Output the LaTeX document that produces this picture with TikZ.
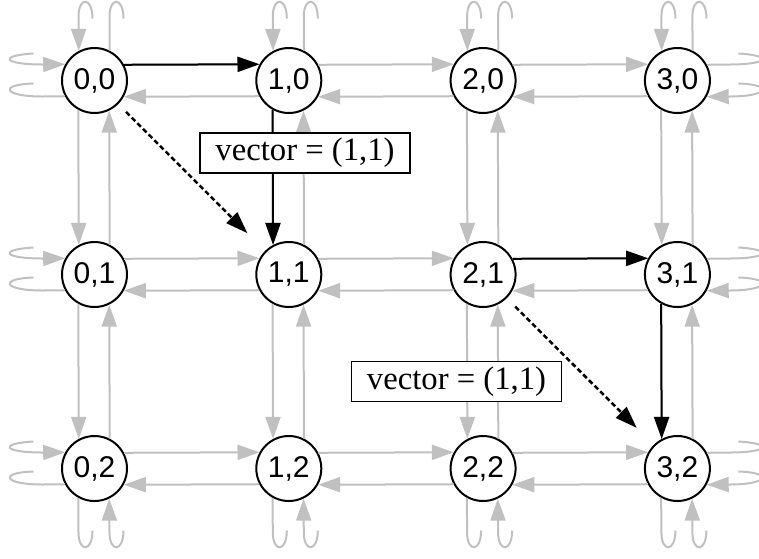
\documentclass[tikz,border=0pt]{standalone}
\usepackage{fontspec}
\setmainfont{Liberation Serif}
\newfontfamily\arialfont{Liberation Sans}
\usetikzlibrary{arrows.meta,calc}
\definecolor{edgegray}{RGB}{192,192,192}
\tikzset{
  state/.style={circle, draw=black, line width=2pt, fill=white, minimum size=65pt, inner sep=0pt, font=\arialfont\fontsize{30}{36}\selectfont},
  gline/.style={draw=edgegray, line width=2pt},
  gedge/.style={gline, -{Triangle[length=22pt,width=15pt]}},
  bedge/.style={draw=black, line width=2pt, -{Triangle[length=22pt,width=15pt]}},
  dedge/.style={bedge, line width=2.5pt, dash pattern=on 5pt off 3pt},
  labelbox/.style={draw=black, line width=1.2pt, fill=white, inner xsep=15.5pt, inner ysep=0pt, minimum height=40pt, font=\fontsize{32.7}{38}\selectfont}
}
\begin{document}
\begin{tikzpicture}[x=1pt,y=-1pt]
\useasboundingbox (0,0) rectangle (759,558);
\clip (0,0) rectangle (759,558);
% nodes
\foreach \i in {0,...,3}{
  \foreach \j in {0,1,2}{
    \node[state] (n\i\j) at ({94.5+194.3*\i},{80.5+194*\j}) {\i,\j};
  }
}
% horizontal gray edges
\foreach \i/\ii in {0/1,1/2,2/3}{
  \foreach \j in {0,1,2}{
    \draw[gedge] (n\i\j.28.5) -- (n\ii\j.151.5);
    \draw[gedge] (n\ii\j.208.5) -- (n\i\j.331.5);
  }
}
% vertical gray edges
\foreach \i in {0,...,3}{
  \foreach \j/\jj in {0/1,1/2}{
    \draw[gedge] (n\i\j.241.5) -- (n\i\jj.118.5);
    \draw[gedge] (n\i\jj.63.4) -- (n\i\j.296.6);
  }
}
% left and right wrap-around stubs
\foreach \j in {0,1,2}{
  \draw[gedge] ($(n0\j)+(-61,-27)$) .. controls ($(n0\j)+(-96,-25)$) and ($(n0\j)+(-92,-16)$) .. ($(n0\j)+(-52,-16)$) -- (n0\j.151.5);
  \draw[gline] (n0\j.208.5) -- ($(n0\j)+(-52,16)$) .. controls ($(n0\j)+(-92,16)$) and ($(n0\j)+(-96,4)$) .. ($(n0\j)+(-61,3)$);
  \draw[gline] (n3\j.28.5) -- ($(n3\j)+(52,-16)$) .. controls ($(n3\j)+(92,-16)$) and ($(n3\j)+(96,-25)$) .. ($(n3\j)+(61,-27)$);
  \draw[gedge] ($(n3\j)+(61,3)$) .. controls ($(n3\j)+(96,4)$) and ($(n3\j)+(92,16)$) .. ($(n3\j)+(52,16)$) -- (n3\j.331.5);
}
% top and bottom wrap-around stubs
\foreach \i in {0,...,3}{
  \draw[gedge] ($(n\i0)+(-2,-62)$) .. controls ($(n\i0)+(-2,-84)$) and ($(n\i0)+(-16,-84)$) .. ($(n\i0)+(-16,-64)$) -- (n\i0.118.5);
  \draw[gline] (n\i0.63.4) -- ($(n\i0)+(15,-64)$) .. controls ($(n\i0)+(15,-84)$) and ($(n\i0)+(29,-84)$) .. ($(n\i0)+(29,-62)$);
  \draw[gline] (n\i2.241.5) -- ($(n\i2)+(-16,64)$) .. controls ($(n\i2)+(-16,84)$) and ($(n\i2)+(-2,84)$) .. ($(n\i2)+(-2,62)$);
  \draw[gedge] ($(n\i2)+(29,62)$) .. controls ($(n\i2)+(29,84)$) and ($(n\i2)+(15,84)$) .. ($(n\i2)+(15,64)$) -- (n\i2.296.6);
}
% black edges
\draw[bedge] (n00.28.5) -- (n10.151.5);
\draw[bedge] (n10.241.5) -- (n11.118.5);
\draw[bedge] (n21.28.5) -- (n31.151.5);
\draw[bedge] (n31.241.5) -- (n32.118.5);
\draw[dedge, shorten <=11pt, shorten >=25pt] (n00) -- (n11);
\draw[dedge, shorten <=12pt, shorten >=24pt] (n21) -- (n32);
% labels
\node[labelbox] (lab1) at (305,153) {vector = (1,1)};
\node[labelbox] (lab2) at (456.5,381.5) {vector = (1,1)};
\end{tikzpicture}
\end{document}
